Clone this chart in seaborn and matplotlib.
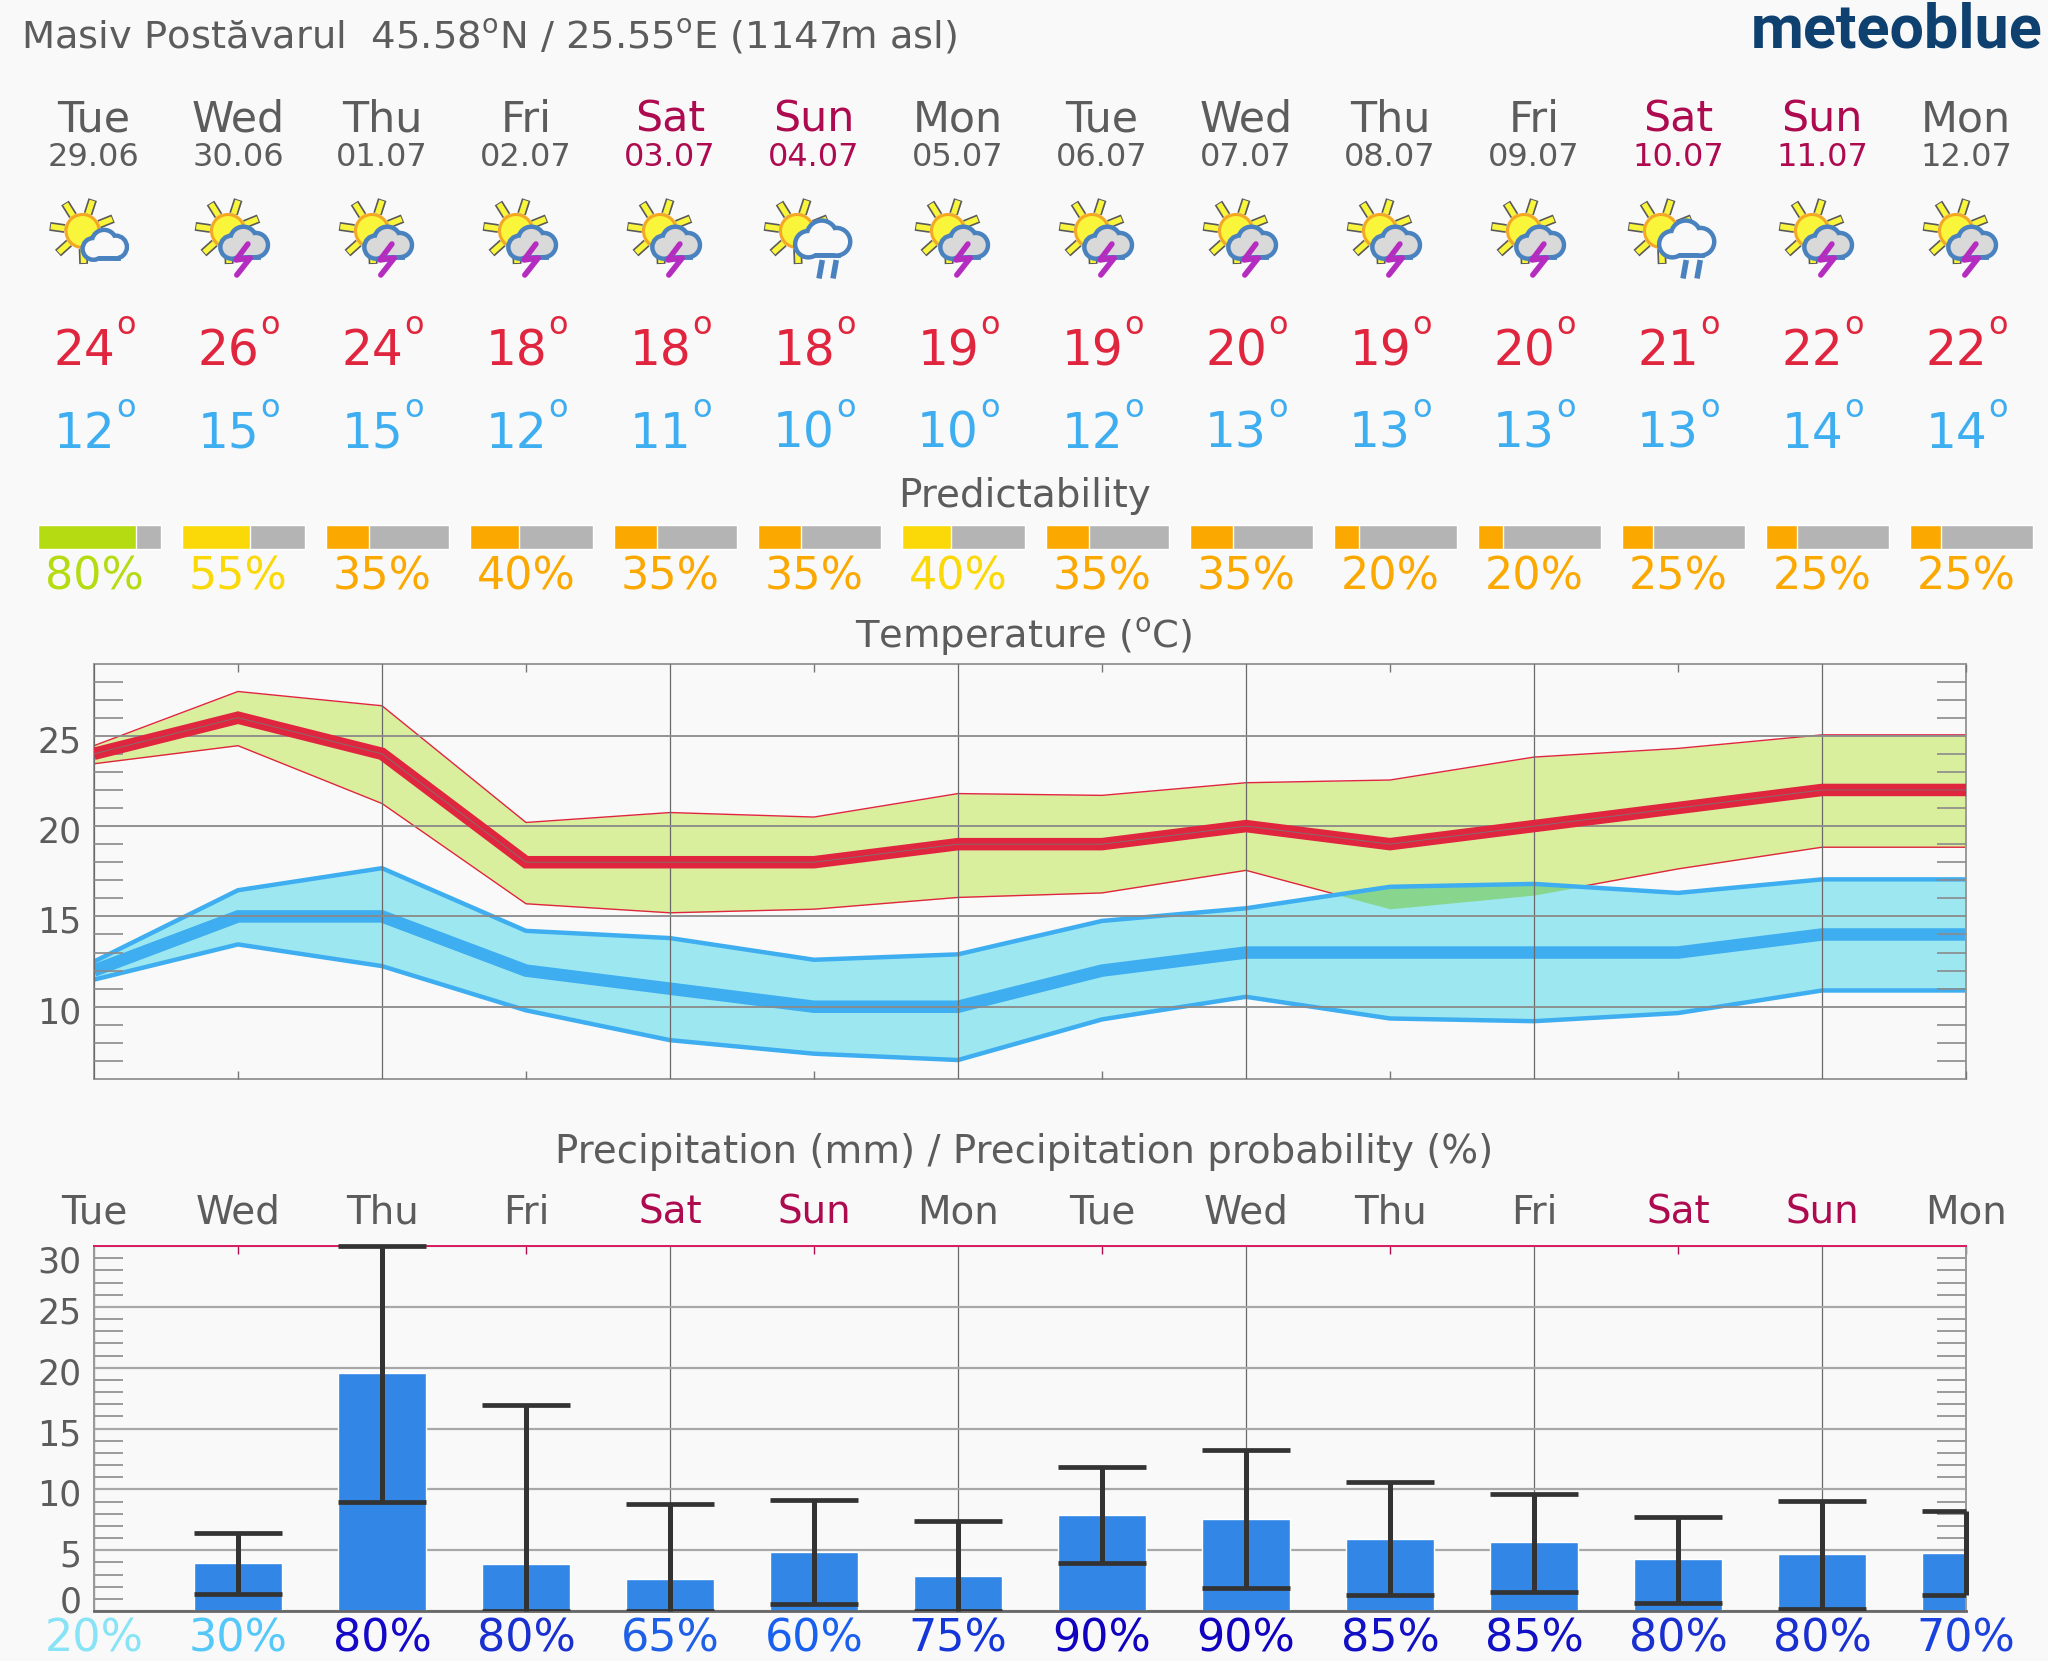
import numpy as np
import matplotlib
matplotlib.use("Agg")
import matplotlib.pyplot as plt
from matplotlib.patches import Circle, Rectangle
from matplotlib.transforms import ScaledTranslation
import seaborn as sb

BG = "#f9f9f9"
GREY = "#5c5c5c"
WEEKEND = "#ae0a4f"
RED = "#e0253f"
BLUE = "#3eaef0"
W, H = 2048, 1661

sb.set_style("white", {"axes.facecolor": BG, "figure.facecolor": BG})
plt.rcParams["font.family"] = ["DejaVu Sans"]

days = np.arange(14)
day_names = ["Tue", "Wed", "Thu", "Fri", "Sat", "Sun", "Mon", "Tue", "Wed", "Thu", "Fri", "Sat", "Sun", "Mon"]
dates = ["29.06", "30.06", "01.07", "02.07", "03.07", "04.07", "05.07", "06.07", "07.07", "08.07", "09.07", "10.07", "11.07", "12.07"]
icons = ["cloud", "storm", "storm", "storm", "storm", "rain", "storm", "storm", "storm", "storm", "storm", "rain", "storm", "storm"]

tmax = [24, 26, 24, 18, 18, 18, 19, 19, 20, 19, 20, 21, 22, 22]
tmin = [12, 15, 15, 12, 11, 10, 10, 12, 13, 13, 13, 13, 14, 14]
tmax_up = [24.45, 27.45, 26.66, 20.2, 20.75, 20.5, 21.8, 21.7, 22.4, 22.55, 23.82, 24.3, 25.05, 25.05]
tmax_lo = [23.45, 24.45, 21.25, 15.7, 15.2, 15.4, 16.05, 16.3, 17.55, 15.42, 16.18, 17.63, 18.83, 18.83]
tmin_up = [12.5, 16.45, 17.67, 14.2, 13.8, 12.6, 12.9, 14.75, 15.45, 16.64, 16.8, 16.3, 17.05, 17.05]
tmin_lo = [11.5, 13.45, 12.25, 9.8, 8.15, 7.4, 7.05, 9.3, 10.55, 9.35, 9.2, 9.65, 10.9, 10.9]

predict = [80, 55, 35, 40, 35, 35, 40, 35, 35, 20, 20, 25, 25, 25]
predict_col = ["#b5dc12", "#fbd908", "#fba800", "#fba800", "#fba800", "#fba800", "#fbd908",
               "#fba800", "#fba800", "#fba800", "#fba800", "#fba800", "#fba800", "#fba800"]

rain = [0, 3.95, 19.55, 3.85, 2.6, 4.85, 2.85, 7.9, 7.6, 5.95, 5.7, 4.3, 4.65, 4.8]
rain_hi = [np.nan, 6.4, 30, 16.95, 8.76, 9.13, 7.4, 11.8, 13.2, 10.6, 9.65, 7.76, 9.04, 8.2]
rain_lo = [np.nan, 1.4, 9.0, 0, 0, 0.6, 0, 3.95, 1.9, 1.35, 1.6, 0.65, 0.18, 1.35]
rain_prob = [20, 30, 80, 80, 65, 60, 75, 90, 90, 85, 85, 80, 80, 70]
rain_prob_col = ["#87e3f5", "#55c8fa", "#1508c8", "#1a2fd0", "#1e5fe6", "#1a60ee", "#1536d8",
                 "#1000c0", "#1000c0", "#1210c4", "#1210c4", "#1a2fd0", "#1a2fd0", "#1a40de"]


def px_axes(left, top, right, bottom, **kw):
    return fig.add_axes([left / W, 1 - bottom / H, (right - left) / W, (bottom - top) / H], **kw)


def day_x(i):
    return AX_L + i * (AX_R - AX_L) / 13


def shift_labels(ax, shifts):
    # the site nudges its y labels by hand, so do the same
    for tick, dy in zip(ax.yaxis.get_major_ticks(), shifts):
        lab = tick.label1
        lab.set_transform(lab.get_transform() + ScaledTranslation(0, -dy / 100, fig.dpi_scale_trans))


def draw_cloud(ax, cx, cy, s, fill):
    # edge pass then fill pass, so only the outer half of the stroke is left
    lobes = [(-12, 3, 9), (-1, -4, 10.5), (11, 1, 9.5)]
    for edge in [True, False]:
        ec = "#4a82bf" if edge else "none"
        lw = 6.4 if edge else 0
        z = 4 if edge else 5
        for dx, dy, r in lobes:
            ax.add_patch(Circle((cx + dx * s, cy + dy * s), r * s, fc=fill, ec=ec, lw=lw, zorder=z))
        ax.add_patch(Rectangle((cx - 12 * s, cy + 2 * s), 23 * s, 8.5 * s, fc=fill, ec=ec, lw=lw, zorder=z))


def draw_icon(ax, x, kind):
    sun_dx = {"cloud": -11.5, "storm": -10, "rain": -17}[kind]
    sx, sy = x + sun_dx, 231
    for a in np.deg2rad([22, 72, 122, 172, 222, 272, 322]):
        ax.plot([sx + 18 * np.cos(a), sx + 33 * np.cos(a)], [sy - 18 * np.sin(a), sy - 33 * np.sin(a)],
                color="#5a5a5a", lw=6.4, solid_capstyle="butt", zorder=2)
        ax.plot([sx + 18 * np.cos(a), sx + 32 * np.cos(a)], [sy - 18 * np.sin(a), sy - 32 * np.sin(a)],
                color="#f9f53a", lw=4, solid_capstyle="butt", zorder=2.1)
    ax.add_patch(Circle((sx, sy), 16.5, fc="#f9f53a", ec="#f5a623", lw=2.2, zorder=3))
    if kind == "cloud":
        draw_cloud(ax, x + 11, 246, 0.96, BG)
    elif kind == "storm":
        cx, cy = x + 6.4, 244
        draw_cloud(ax, cx, cy, 1.04, "#d9d9d9")
        ax.plot([cx + 3.5, cx - 8.5, cx + 5.8, cx - 7.6], [cy, cy + 16, cy + 14, cy + 31],
                color="#b52cc0", lw=4, zorder=6)
    else:
        cx, cy = x + 9, 240.5
        draw_cloud(ax, cx, cy, 1.22, BG)
        for dx in [0, 14]:
            ax.plot([cx + dx - 0.7, cx + dx - 4], [cy + 19.5, cy + 38], color="#4a82bf", lw=4,
                    solid_capstyle="butt", zorder=6)


def style_axes(ax, ylim, major, minor):
    ax.set_xlim(0, 13)
    ax.set_ylim(*ylim)
    ax.set_xlabel("")
    ax.set_ylabel("")
    ax.set_xticks(days[::2])
    ax.set_xticklabels([])
    ax.set_xticks(days[1::2], minor=True)
    ax.set_yticks(major)
    ax.set_yticks(minor, minor=True)
    ax.tick_params(axis="x", which="major", length=0)
    ax.tick_params(axis="y", which="major", length=0, labelsize=25, labelcolor=GREY, pad=9)
    ax.tick_params(axis="y", which="minor", direction="in", left=True, right=True, length=21,
                   width=1.2, color="#8a8a8a")
    ax.grid(True, axis="y", which="major", color="#8a8a8a", lw=1.3)
    ax.grid(True, axis="x", which="major", color="#6a6a6a", lw=0.9)
    for sp in ax.spines.values():
        sp.set_color("#999999")
        sp.set_linewidth(1.4)
        sp.set_visible(True)


fig = plt.figure(figsize=(W / 100, H / 100), dpi=100, facecolor=BG)
AX_L, AX_R = 94, 1966

# header overlay in pixel coords
top = fig.add_axes([0, 0, 1, 1], zorder=5)
top.set_xlim(0, W)
top.set_ylim(H, 0)
top.axis("off")
top.patch.set_alpha(0)

deg = r"$^{\mathrm{o}}$"
top.text(21, 49, f"Masiv Postăvarul  45.58{deg}N / 25.55{deg}E (1147m asl)", fontsize=27.7, color=GREY, va="baseline")
top.text(2043, 48, "meteoblue", fontsize=44, fontweight="bold", color="#0f4170", ha="right", va="baseline",
         family="Roboto")

for i in days:
    x = day_x(i)
    col = WEEKEND if day_names[i] in ("Sat", "Sun") else GREY
    top.text(x, 132, day_names[i], fontsize=30.8, color=col, ha="center", va="baseline")
    top.text(x, 166, dates[i], fontsize=23, color=col, ha="center", va="baseline")
    draw_icon(top, x, icons[i])
    top.text(x + 21, 365, str(tmax[i]), fontsize=35, color=RED, ha="right", va="baseline")
    top.text(x + 22, 334, "o", fontsize=23, color=RED, ha="left", va="baseline")
    top.text(x + 21, 448, str(tmin[i]), fontsize=35, color=BLUE, ha="right", va="baseline")
    top.text(x + 22, 417, "o", fontsize=23, color=BLUE, ha="left", va="baseline")
    top.text(x, 590, f"{predict[i]}%", fontsize=32, color=predict_col[i], ha="center", va="baseline")
    top.text(x, 1224, day_names[i], fontsize=28, color=col, ha="center", va="baseline")
    top.text(x, 1651, f"{rain_prob[i]}%", fontsize=32, color=rain_prob_col[i], ha="center", va="baseline")

top.text(1024, 507, "Predictability", fontsize=28, color=GREY, ha="center", va="baseline")
top.text(1024, 648, f"Temperature ({deg}C)", fontsize=27.7, color=GREY, ha="center", va="baseline")
top.text(1024, 1163, "Precipitation (mm) / Precipitation probability (%)", fontsize=27.9, color=GREY, ha="center",
         va="baseline")

# predictability bars
ax_p = px_axes(AX_L, 525, AX_R, 549)
ax_p.set_xlim(0, 13)
ax_p.set_ylim(-0.5, 0.5)
ax_p.axis("off")
bar_w = 0.853
bar_left = days + 0.038 - bar_w / 2
ax_p.barh(np.zeros(14), np.full(14, bar_w), left=bar_left, height=1, color="#b4b4b4", clip_on=False)
ax_p.barh(np.zeros(14), np.array(predict) / 100 * bar_w, left=bar_left, height=1, color=predict_col, clip_on=False)

# temperature
ax_t = px_axes(AX_L, 663.5, AX_R, 1079, facecolor=BG)
ax_t.fill_between(days, tmax_lo, tmax_up, color="#daef9e", lw=0, zorder=1)
for edge in (tmax_up, tmax_lo):
    sb.lineplot(x=days, y=edge, color=RED, lw=1, errorbar=None, ax=ax_t, zorder=1.1)
ax_t.fill_between(days, tmin_lo, tmin_up, color="#9de8f0", lw=0, zorder=1.2)
ax_t.fill_between(days, tmax_lo, tmin_up, where=np.array(tmin_up) > np.array(tmax_lo), interpolate=True,
                  color="#88d68e", lw=0, zorder=1.3)
for edge in (tmin_up, tmin_lo):
    sb.lineplot(x=days, y=edge, color=BLUE, lw=3.2, errorbar=None, ax=ax_t, zorder=1.4)
sb.lineplot(x=days, y=tmin, color=BLUE, lw=9, errorbar=None, ax=ax_t, zorder=2, solid_joinstyle="miter",
            solid_capstyle="butt")
sb.lineplot(x=days, y=tmax, color=RED, lw=9, errorbar=None, ax=ax_t, zorder=3, solid_joinstyle="miter",
            solid_capstyle="butt")
sb.lineplot(x=days, y=tmax, color="#777777", lw=0.6, errorbar=None, ax=ax_t, zorder=3.1)
style_axes(ax_t, (6, 29), [10, 15, 20, 25], [v for v in range(7, 29) if v % 5])
ax_t.tick_params(axis="x", which="minor", direction="in", top=True, bottom=True, length=5.7, width=1,
                 color="#777777")
ax_t.set_axisbelow(False)
shift_labels(ax_t, [3, 3, 3, 3])

# precipitation
ax_r = px_axes(AX_L, 1246, AX_R, 1611, facecolor=BG)
sb.barplot(x=days, y=rain, native_scale=True, width=0.61, color="#3186e6", saturation=1, errorbar=None, ax=ax_r,
           zorder=2)
style_axes(ax_r, (0, 30), [0, 5, 10, 15, 20, 25, 30], [v for v in range(1, 30) if v % 5])
ax_r.set_axisbelow(True)
ax_r.tick_params(axis="x", which="minor", direction="in", top=True, bottom=False, length=5.5, width=1,
                 color=WEEKEND)
ax_r.spines["top"].set_color("#d81b60")
ax_r.spines["bottom"].set_color("#666666")
ax_r.spines["bottom"].set_linewidth(2)
ax_r.grid(True, axis="y", which="major", color="#a8a8a8", lw=1.6)
shift_labels(ax_r, [-12, 3, 3, 3, 3, 3, 13])

cap_lo = days - 0.305
cap_hi = np.minimum(days + 0.305, 13)
ax_r.vlines(days, rain_lo, rain_hi, color="#333333", lw=3.6, clip_on=False, zorder=4)
ax_r.hlines(rain_hi, cap_lo, cap_hi, color="#333333", lw=3.4, clip_on=False, zorder=4)
ax_r.hlines(rain_lo, cap_lo, cap_hi, color="#333333", lw=3.4, zorder=4)

plt.savefig("out.png", dpi=100, facecolor=BG)
